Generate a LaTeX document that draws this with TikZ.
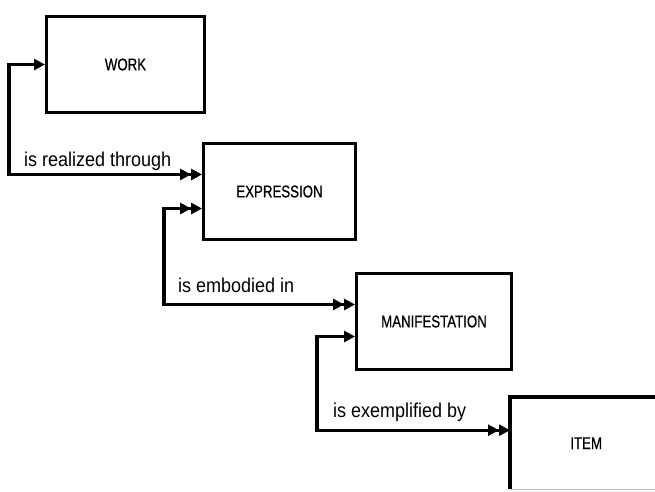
\documentclass[tikz,border=0pt]{standalone}
\usepackage{fontspec}
\usetikzlibrary{arrows.meta}
\newfontfamily\boxfont[FakeStretch=0.78,FakeBold=0.6]{Liberation Sans}
\newfontfamily\labfont[FakeStretch=0.9]{Liberation Sans}
\tikzset{
  entity/.style={draw=black, line width=3pt, rectangle, inner sep=0pt,
    anchor=north west, font=\boxfont\fontsize{17}{19}\selectfont},
  conn/.style={line width=3.2pt, draw=black},
  rel/.style={font=\labfont\fontsize{20}{22}\selectfont, inner sep=0pt, anchor=base west},
  one/.tip={Triangle[length=11pt,width=11pt]},
  two/.tip={Triangle[length=11pt,width=11pt]Triangle[length=11pt,width=11pt]}
}
\begin{document}
\begin{tikzpicture}[x=1pt,y=-1pt]
\useasboundingbox (0,0) rectangle (655,491);
\clip (0,0) rectangle (655,491);
\node[entity, minimum width=158pt, minimum height=96pt] (work) at (45,15) {WORK};
\node[entity, minimum width=152pt, minimum height=96pt] (expr) at (202,142) {EXPRESSION};
\node[entity, minimum width=155pt, minimum height=96pt] (manif) at (355,272) {MANIFESTATION};
\node[minimum width=152pt, minimum height=92pt, inner sep=0pt, anchor=north west,
  font=\boxfont\fontsize{17}{19}\selectfont] (item) at (510,397) {ITEM};
\draw[line width=3.2pt] (item.south west) -- (item.north west) -- (item.north east);
\draw[line width=0.6pt, black!25] (item.south west) -- (item.south east);
% connectors
\draw[conn, one-two] (work.west) -- ++(-36,0) |- ([yshift=17pt]expr.west);
\draw[conn, two-two] ([yshift=-17pt]expr.west) -- ++(-38,0) |- ([yshift=17pt]manif.west);
\draw[conn, one-two] ([yshift=-15pt]manif.west) -- ++(-38,0) |- ([yshift=13pt]item.west);
% labels
\node[rel] (l1) at (24,166) {is realized through};
\node[rel] (l2) at (178,292) {is embodied in};
\node[rel] (l3) at (333,417) {is exemplified by};
\end{tikzpicture}
\end{document}
